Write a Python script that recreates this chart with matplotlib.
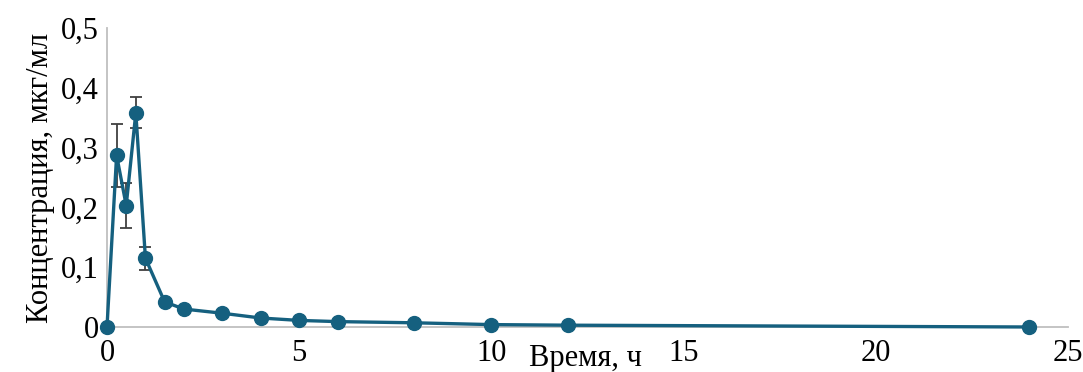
import matplotlib

matplotlib.use("Agg")
import matplotlib.pyplot as plt

# Time, h
TIME_H = [0, 0.25, 0.5, 0.75, 1, 1.5, 2, 3, 4, 5, 6, 8, 10, 12, 24]
# Concentration, ug/ml
CONC = [0.0, 0.287, 0.203, 0.358, 0.115, 0.042, 0.030, 0.023, 0.015,
        0.011, 0.009, 0.007, 0.004, 0.003, 0.0]
# Error (only early points have visible bars)
ERR = [0, 0.053, 0.038, 0.026, 0.019, 0, 0, 0, 0, 0, 0, 0, 0, 0, 0]

Y_TICKS = [0, 0.1, 0.2, 0.3, 0.4, 0.5]
Y_TICK_LABELS = ["0", "0,1", "0,2", "0,3", "0,4", "0,5"]
X_TICKS = [0, 5, 10, 15, 20, 25]

COLOR_LINE = "#15607f"
COLOR_ERR = "#404040"
COLOR_AXIS = "#bfbfbf"
FS = 22

plt.rcParams["font.family"] = ["Liberation Serif", "DejaVu Serif"]

fig = plt.figure(figsize=(10.83, 3.72), dpi=100)
ax = fig.add_axes([0.0988, 0.121, 0.887, 0.804])

ax.errorbar(TIME_H, CONC, yerr=ERR, fmt="none", ecolor=COLOR_ERR,
            elinewidth=1.3, capsize=4, capthick=1.3, zorder=2)
ax.plot(TIME_H, CONC, color=COLOR_LINE, linewidth=2.4, marker="o",
        markersize=10, zorder=3, clip_on=False)

ax.set_xlim(0, 25)
ax.set_ylim(0, 0.5)
ax.set_xticks(X_TICKS)
ax.set_yticks(Y_TICKS)
ax.set_yticklabels(Y_TICK_LABELS)
ax.tick_params(length=0, labelsize=FS)
ax.tick_params(axis="y", pad=6)
ax.tick_params(axis="x", pad=9)

for side in ("top", "right"):
    ax.spines[side].set_visible(False)
for side in ("left", "bottom"):
    ax.spines[side].set_color(COLOR_AXIS)
    ax.spines[side].set_linewidth(1.3)

ax.set_ylabel("Концентрация, мкг/мл", fontsize=FS, labelpad=4)
ax.text(12.45, -0.052, "Время, ч", fontsize=FS, ha="center", va="center",
        transform=ax.transData)

fig.savefig("out.png", dpi=100)
